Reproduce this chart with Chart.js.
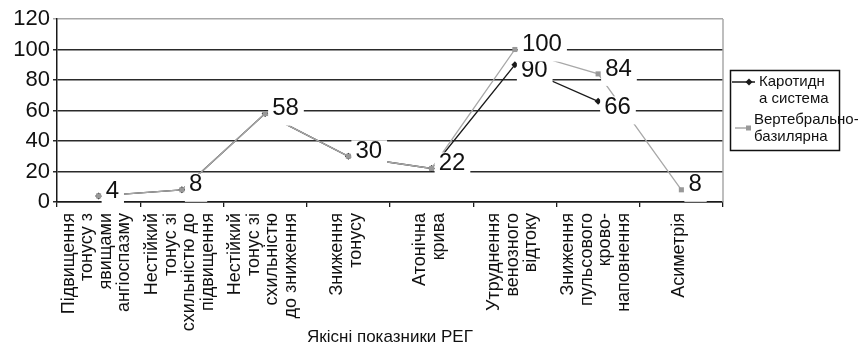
<!DOCTYPE html>
<html><head><meta charset="utf-8">
<script src="https://cdn.jsdelivr.net/npm/chart.js@4/dist/chart.umd.min.js"></script>
<style>html,body{margin:0;padding:0;background:#fff}#wrap{width:858px;height:349px;position:relative}</style>
</head><body><div id="wrap"><canvas id="c"></canvas></div>
<script>
// ---- data ----
const categories = [
  ["Підвищення","тонусу з","явищами","ангіоспазму"],
  ["Нестійкий","тонус зі","схильністю до","підвищення"],
  ["Нестійкий","тонус зі","схильністю","до зниження"],
  ["Зниження","тонусу"],
  ["Атонічна","крива"],
  ["Утруднення","венозного","відтоку"],
  ["Зниження","пульсового","крово-","наповнення"],
  ["Асиметрія"]
];
const carotidValues   = [4, 8, 58, 30, 22, 90, 66, null];
const vertebralValues = [4, 8, 58, 30, 22, 100, 84, 8];
const carotidName   = ["Каротидн", "а система"];
const vertebralName = ["Вертебрально-", "базилярна"];
const yTicks = [0, 20, 40, 60, 80, 100, 120];
const xAxisTitle = "Якісні показники РЕГ";

// ---- styles ----
const FONT = '"Liberation Sans", Arial, sans-serif';
const DARK = '#1a1a1a';
const GRAY = '#a8a8a8';

const pointLabels = {
  id: 'pointLabels',
  afterDatasetsDraw(chart) {
    const ctx = chart.ctx;
    ctx.save();
    ctx.font = '24px ' + FONT;
    ctx.textBaseline = 'middle';
    ctx.textAlign = 'left';
    chart.data.datasets.forEach((ds, i) => {
      const meta = chart.getDatasetMeta(i);
      ds.data.forEach((v, j) => {
        if (v == null) return;
        if (ds.skipLabelIfSame && ds.skipLabelIfSame[j] === v) return;
        const p = meta.data[j];
        const txt = String(v);
        const w = ctx.measureText(txt).width;
        const x = p.x + ds.labelDx, y = p.y + ds.labelDy;
        ctx.fillStyle = '#fff';
        ctx.fillRect(x - 4, y - 11, w + 9, 28);
        ctx.fillStyle = '#111';
        ctx.fillText(txt, x, y);
      });
    });
    ctx.restore();
  }
};

const xLabels = {
  id: 'xLabels',
  afterDraw(chart) {
    const ctx = chart.ctx, xs = chart.scales.x;
    const L = 18.5, top = xs.top + 11;
    ctx.save();
    ctx.font = '18px ' + FONT;
    ctx.fillStyle = '#111';
    ctx.textAlign = 'right';
    ctx.textBaseline = 'middle';
    chart.data.labels.forEach((lines, i) => {
      const cx = xs.getPixelForValue(i) - 2;
      const n = lines.length;
      lines.forEach((t, k) => {
        const x = cx + (k - (n - 1) / 2) * L;
        ctx.save();
        ctx.translate(x, top);
        ctx.rotate(-Math.PI / 2);
        ctx.fillText(t, 0, 0);
        ctx.restore();
      });
    });
    ctx.restore();
  }
};

const frame = {
  id: 'frame',
  beforeDatasetsDraw(chart) {
    const a = chart.chartArea, ctx = chart.ctx;
    ctx.save();
    ctx.strokeStyle = GRAY; ctx.lineWidth = 1.5;
    ctx.beginPath(); ctx.moveTo(a.right, a.top); ctx.lineTo(a.right, a.bottom); ctx.stroke();
    ctx.restore();
  },
  afterDraw(chart) {
    const ctx = chart.ctx;
    ctx.save();
    // legend box
    ctx.strokeStyle = '#111'; ctx.lineWidth = 1.5;
    ctx.strokeRect(730.5, 70.5, 109, 80);
    ctx.font = '15px ' + FONT;
    ctx.textBaseline = 'middle'; ctx.textAlign = 'left';
    const ds = chart.data.datasets;
    // item 1
    ctx.strokeStyle = ds[0].borderColor; ctx.lineWidth = 1.5;
    ctx.beginPath(); ctx.moveTo(732, 82); ctx.lineTo(755, 82); ctx.stroke();
    ctx.fillStyle = ds[0].pointBackgroundColor;
    ctx.beginPath(); ctx.moveTo(749, 78.5); ctx.lineTo(752.5, 82); ctx.lineTo(749, 85.5); ctx.lineTo(745.5, 82); ctx.closePath(); ctx.fill();
    ctx.fillStyle = '#111';
    ds[0].label.forEach((t, k) => ctx.fillText(t, 759, 82 + k * 17));
    // item 2
    ctx.strokeStyle = ds[1].borderColor;
    ctx.beginPath(); ctx.moveTo(735, 128); ctx.lineTo(751, 128); ctx.stroke();
    ctx.fillStyle = ds[1].pointBackgroundColor;
    ctx.fillRect(746, 125.5, 5, 5);
    ctx.fillStyle = '#111';
    ds[1].label.forEach((t, k) => ctx.fillText(t, 754, 120 + k * 17));
    ctx.restore();
  }
};

new Chart(document.getElementById('c'), {
  type: 'line',
  data: {
    labels: categories,
    datasets: [
      {
        label: carotidName,
        data: carotidValues,
        borderColor: DARK, backgroundColor: DARK,
        pointBackgroundColor: DARK, pointBorderColor: DARK,
        borderWidth: 1.3, pointStyle: 'rectRot', pointRadius: 3.5, pointBorderWidth: 0,
        labelDx: 6, labelDy: 6, skipLabelIfSame: vertebralValues,
        order: 1
      },
      {
        label: vertebralName,
        data: vertebralValues,
        borderColor: GRAY, backgroundColor: '#999',
        pointBackgroundColor: '#999', pointBorderColor: '#999',
        borderWidth: 1.3, pointStyle: 'rect', pointRadius: 3.6, pointBorderWidth: 0,
        labelDx: 7, labelDy: -5,
        order: 0
      }
    ]
  },
  options: {
    responsive: true, maintainAspectRatio: false, animation: false,
    layout: { padding: { left: 0, top: 19, right: 135, bottom: 0 } },
    plugins: { legend: { display: false }, tooltip: { enabled: false } },
    scales: {
      x: {
        z: 1,
        offset: true,
        grid: { drawOnChartArea: false, drawTicks: true, tickLength: 5, color: DARK, lineWidth: 1.3, offset: true },
        border: { display: true, color: DARK, width: 1.5 },
        ticks: { display: false, autoSkip: false },
        title: { display: true, text: xAxisTitle, color: '#111', padding: { top: 0, bottom: 1 },
                 font: { family: FONT, size: 17, lineHeight: 1.2 } },
        afterFit(s) { s.height = 147; }
      },
      y: {
        min: 0, max: 120,
        afterBuildTicks(s) { s.ticks = yTicks.map(v => ({ value: v })); },
        grid: { color: c => (c.tick && c.tick.value === 120) ? GRAY : '#2a2a2a', lineWidth: 1.5, tickLength: 4 },
        border: { display: true, color: DARK, width: 1.5 },
        ticks: { padding: 3, color: '#111', font: { family: FONT, size: 22 } },
        afterFit(s) { s.width = 57; }
      }
    }
  },
  plugins: [pointLabels, xLabels, frame]
});
</script>
</body></html>
